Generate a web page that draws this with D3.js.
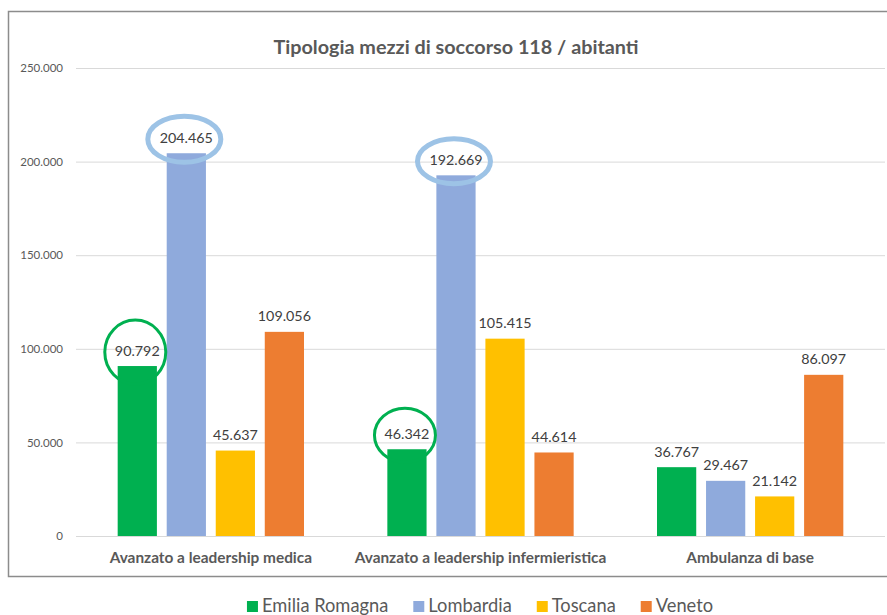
<!DOCTYPE html>
<html>
<head>
<meta charset="utf-8">
<script src="https://cdn.jsdelivr.net/npm/d3@7.9.0/dist/d3.min.js"></script>
<style>
  body { margin: 0; background: #fff; }
  svg { display: block; font-family: Lato, "Liberation Sans", sans-serif; }
</style>
</head>
<body>
<div id="chart"></div>
<script>
const categories = [
  'Avanzato a leadership medica',
  'Avanzato a leadership infermieristica',
  'Ambulanza di base',
];
const regions = ['Emilia Romagna', 'Lombardia', 'Toscana', 'Veneto'];

const emiliaRomagna = [90792, 46342, 36767];
const lombardia = [204465, 192669, 29467];
const toscana = [45637, 105415, 21142];
const veneto = [109056, 44614, 86097];

const yTicks = [0, 50000, 100000, 150000, 200000, 250000];

const colors = ['#00b050', '#8faadc', '#ffc000', '#ed7d31'];

// circled labels: [region, category, stroke colour, rx, ry]
const highlights = [
  ['Lombardia', 0, '#9dc3e6', 36.5, 23],
  ['Lombardia', 1, '#9dc3e6', 36.5, 22.5],
  ['Emilia Romagna', 0, '#00b050', 30.5, 32],
  ['Emilia Romagna', 1, '#00b050', 30.5, 27],
];

const seriesValues = [emiliaRomagna, lombardia, toscana, veneto];
const rows = [];
regions.forEach((r, i) => {
  categories.forEach((c, j) => {
    rows.push({ region: r, category: c, value: seriesValues[i][j], color: colors[i] });
  });
});

const it = d3.formatLocale({ decimal: ',', thousands: '.', grouping: [3], currency: ['', '€'] });
const fmt = it.format(',d');

const width = 887;
const height = 615;
const plot = { left: 76, right: 885, top: 68, bottom: 536 };

const svg = d3.select('#chart')
  .append('svg')
  .attr('width', width)
  .attr('height', height);

// frame
svg.append('rect')
  .attr('x', 8.5)
  .attr('y', 11.5)
  .attr('width', 900)
  .attr('height', 565)
  .attr('fill', 'none')
  .attr('stroke', '#8c8c8c')
  .attr('stroke-width', 1.5);

const x0 = d3.scaleBand()
  .domain(categories)
  .range([plot.left, plot.right]);

const x1 = d3.scaleBand()
  .domain(regions)
  .range([0, x0.bandwidth()])
  .paddingInner(0.2)
  .paddingOuter(0.85);

const y = d3.scaleLinear()
  .domain([0, 250000])
  .range([plot.bottom, plot.top]);

const yAxis = svg.append('g')
  .attr('transform', `translate(${plot.left},0)`)
  .call(
    d3.axisLeft(y)
      .tickValues(yTicks)
      .tickFormat(fmt)
      .tickSizeInner(-(plot.right - plot.left))
      .tickSizeOuter(0)
      .tickPadding(13)
  );
yAxis.select('.domain').remove();
yAxis.selectAll('.tick line').attr('stroke', '#d9d9d9');
yAxis.selectAll('.tick text')
  .attr('fill', '#595959')
  .style('font-size', '11.5px')
  .style('font-family', 'Lato, sans-serif');

// title
svg.append('text')
  .attr('x', 456)
  .attr('y', 54)
  .attr('text-anchor', 'middle')
  .attr('fill', '#595959')
  .style('font-size', '19.8px')
  .style('font-weight', 'bold')
  .text('Tipologia mezzi di soccorso 118 / abitanti');

// bars
const bx = (d) => x0(d.category) + x1(d.region);

svg.append('g')
  .selectAll('rect')
  .data(rows)
  .join('rect')
  .attr('x', bx)
  .attr('y', (d) => y(d.value))
  .attr('width', x1.bandwidth())
  .attr('height', (d) => y(0) - y(d.value))
  .attr('fill', (d) => d.color);

// value labels
svg.append('g')
  .selectAll('text')
  .data(rows)
  .join('text')
  .attr('x', (d) => bx(d) + x1.bandwidth() / 2)
  .attr('y', (d) => y(d.value) - 10.5)
  .attr('text-anchor', 'middle')
  .attr('fill', '#404040')
  .style('font-size', '14.3px')
  .text((d) => fmt(d.value));

// category labels
svg.append('g')
  .selectAll('text')
  .data(categories)
  .join('text')
  .attr('x', (d) => x0(d) + x0.bandwidth() / 2)
  .attr('y', 563)
  .attr('text-anchor', 'middle')
  .attr('fill', '#595959')
  .style('font-size', '15.4px')
  .style('font-weight', 'bold')
  .text((d) => d);

// highlight rings
svg.append('g')
  .selectAll('ellipse')
  .data(highlights)
  .join('ellipse')
  .attr('cx', (h) => x0(categories[h[1]]) + x1(h[0]) + x1.bandwidth() / 2 - 2)
  .attr('cy', (h) => {
    const v = seriesValues[regions.indexOf(h[0])][h[1]];
    return y(v) - 14;
  })
  .attr('rx', (h) => h[3])
  .attr('ry', (h) => h[4])
  .attr('fill', 'none')
  .attr('stroke', (h) => h[2])
  .attr('stroke-width', (h) => (h[2] === '#00b050' ? 3 : 5));

// legend
const legend = svg.append('g').attr('transform', 'translate(0,612)');
const items = legend.selectAll('g')
  .data(regions)
  .join('g');
items.append('rect')
  .attr('y', -11)
  .attr('width', 11)
  .attr('height', 11)
  .attr('fill', (d, i) => colors[i]);
items.append('text')
  .attr('x', 15)
  .attr('fill', '#595959')
  .style('font-size', '18.3px')
  .text((d) => d);

let lx = 0;
const widths = [];
items.each(function () {
  widths.push(this.getBBox().width);
});
const gap = 25;
const total = d3.sum(widths) + gap * (widths.length - 1);
lx = 480 - total / 2;
items.attr('transform', (d, i) => {
  const t = `translate(${lx},0)`;
  lx += widths[i] + gap;
  return t;
});
</script>
</body>
</html>
